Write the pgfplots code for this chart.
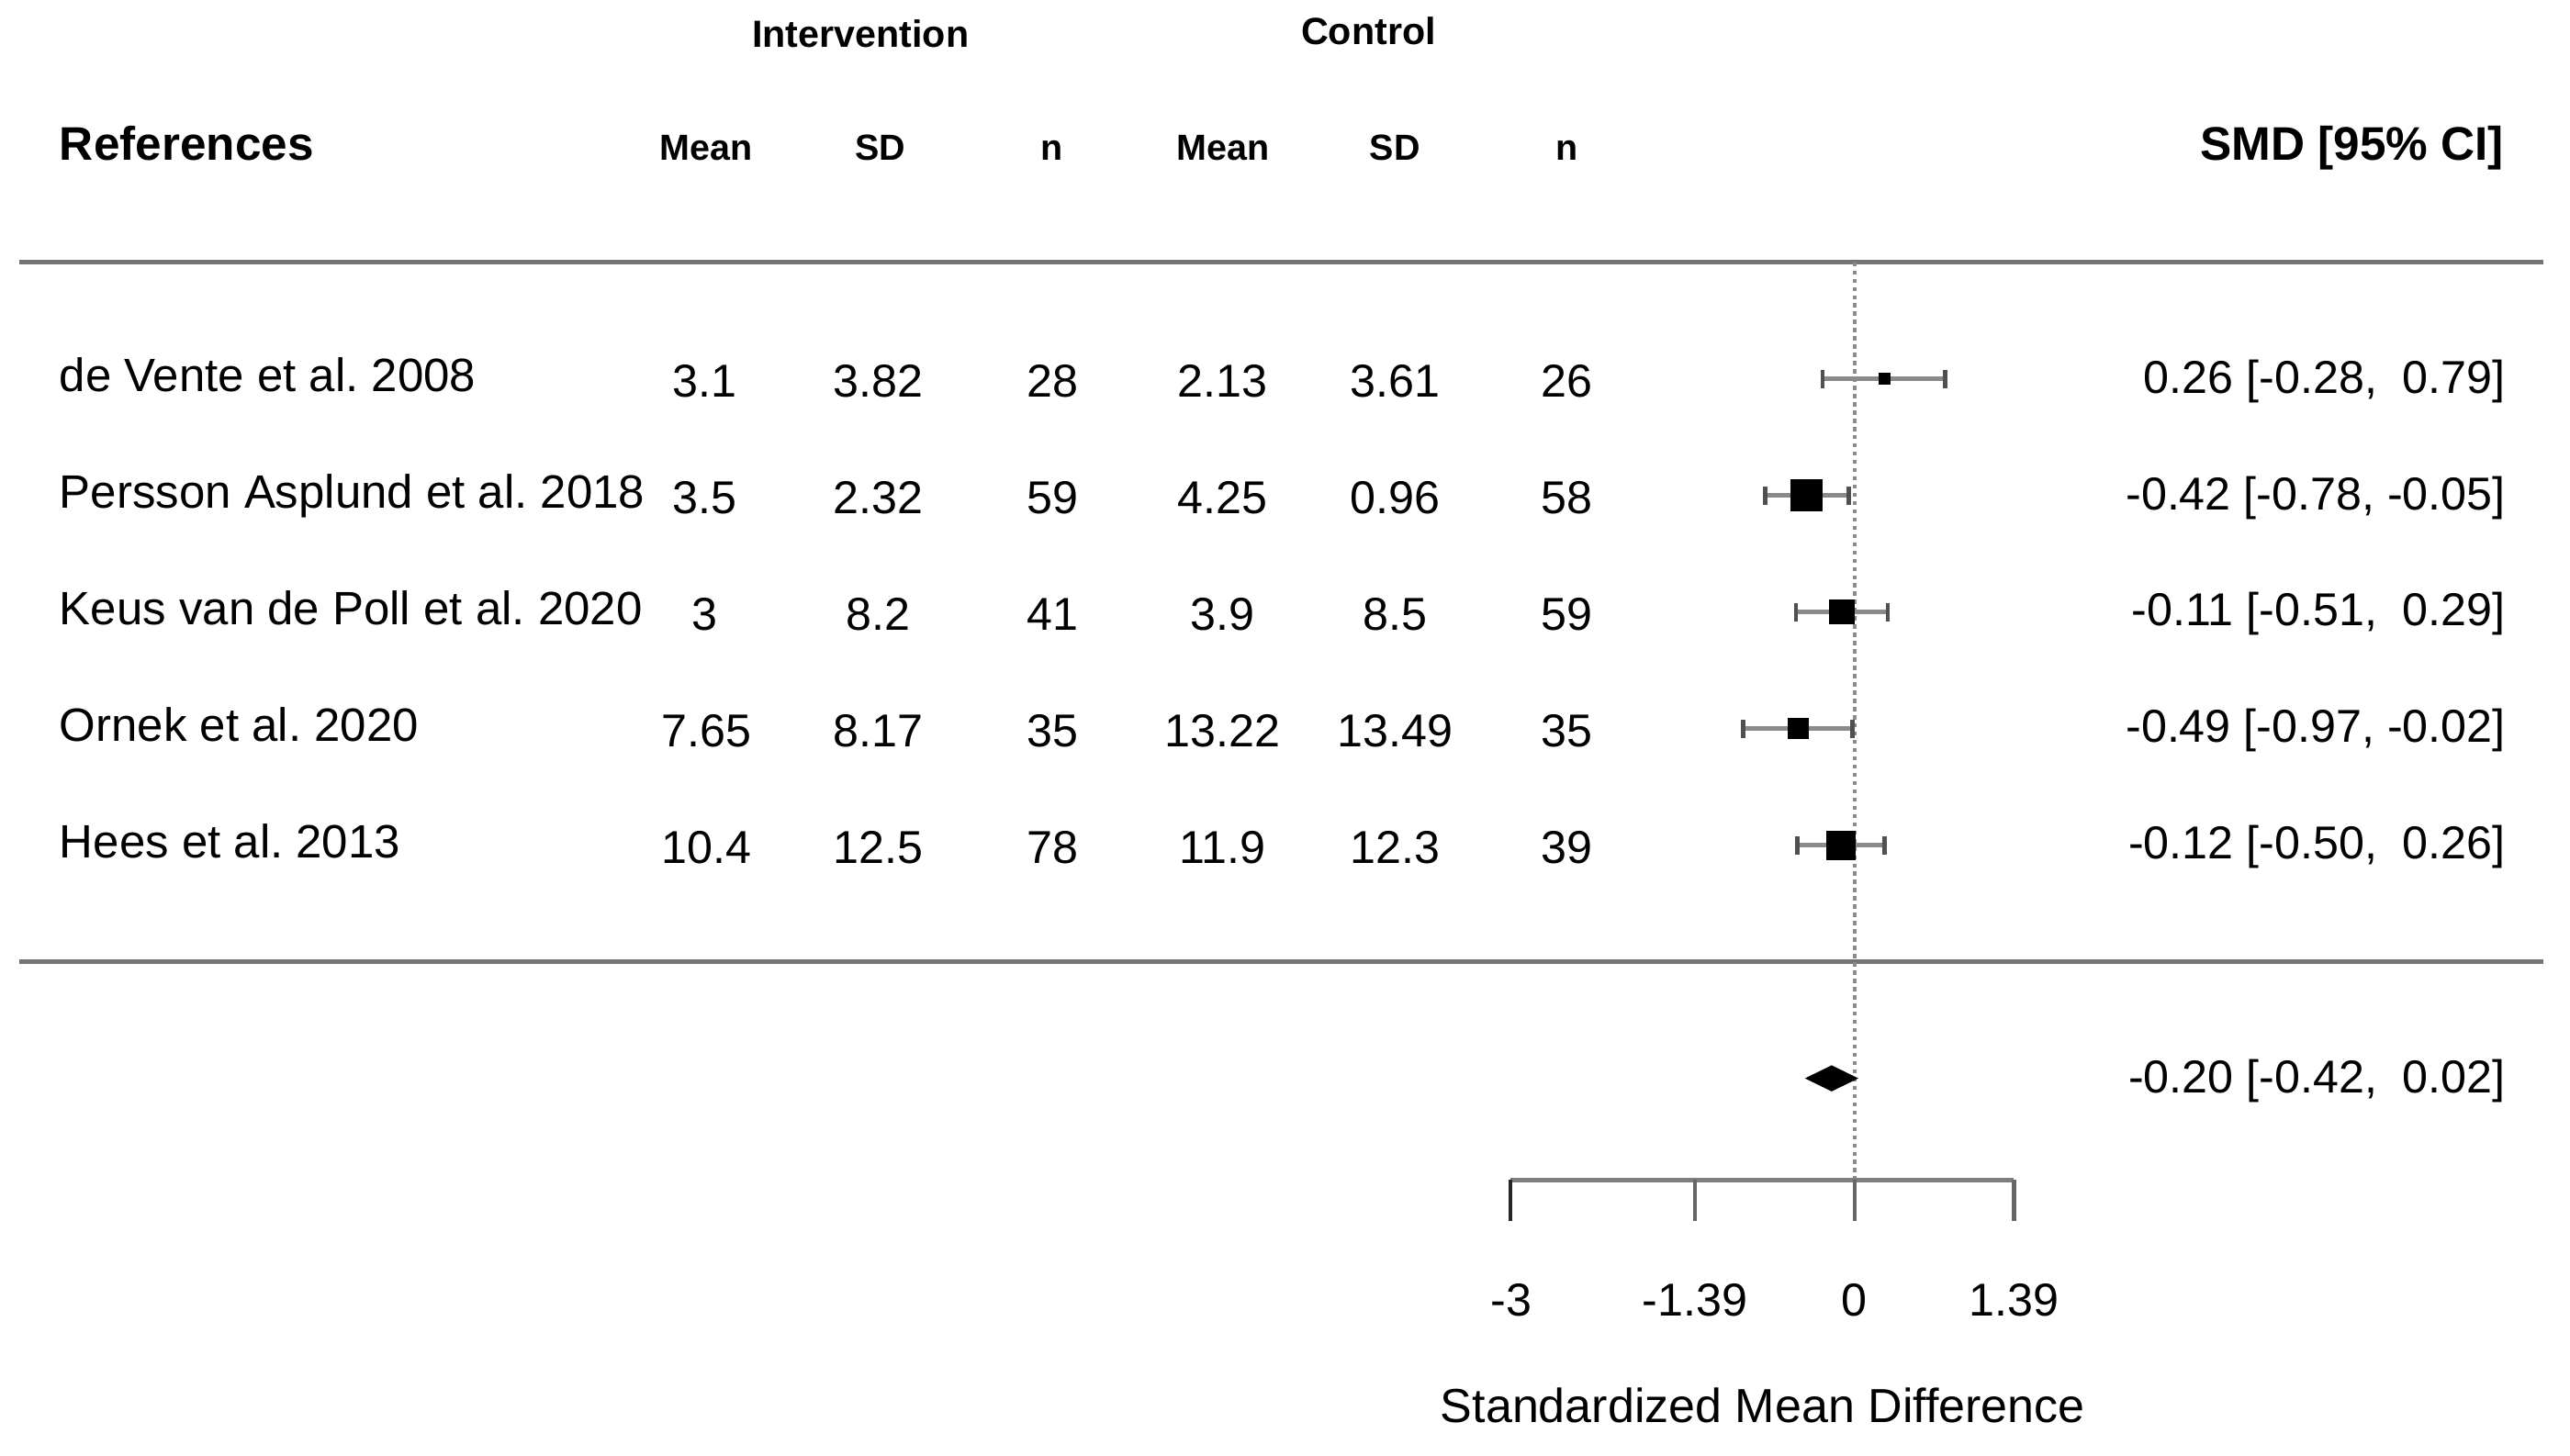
\documentclass[border=0pt]{standalone}
\usepackage{fontspec}
\setmainfont{Liberation Sans}
\setsansfont{Liberation Sans}
\usepackage{pgfplots}
\pgfplotsset{compat=1.18}
\definecolor{rulegray}{HTML}{747474}
\definecolor{cigray}{HTML}{8A8A8A}
\definecolor{endgray}{HTML}{505050}
\definecolor{axgray}{HTML}{7E7E7E}
\definecolor{tickgray}{HTML}{666666}
\tikzset{
  reg/.style={font=\fontsize{14}{16}\selectfont, inner sep=0pt, anchor=base},
  regl/.style={font=\fontsize{14.2}{16}\selectfont, inner sep=0pt, anchor=base west},
  regr/.style={reg, anchor=base east},
  hd/.style={font=\bfseries\fontsize{11}{13}\selectfont, inner sep=0pt, anchor=base},
  hdb/.style={font=\bfseries\fontsize{11.5}{13}\selectfont, inner sep=0pt, anchor=base},
  hdl/.style={font=\bfseries\fontsize{14.3}{16}\selectfont, inner sep=0pt},
}
\begin{document}
\frenchspacing
\begin{tikzpicture}
\useasboundingbox (0,0) rectangle (780pt,441.7pt);
% ---------------- layout axis (pixel coordinates) for text and rules
\begin{axis}[at={(0,0)}, anchor=south west, scale only axis,
  width=780pt, height=441.7pt, xmin=0, xmax=1568, ymin=0, ymax=887.9,
  y dir=reverse, hide axis, clip=false]
% headers
\node[hdb] at (axis cs:525,29) {Intervention};
\node[hdb] at (axis cs:835,27) {Control};
\node[hdl, anchor=base west] at (axis cs:36,98) {References};
\node[hdl, anchor=base east] at (axis cs:1528,98) {SMD [95\% CI]};
\node[hd] at (axis cs:431,98) {Mean};
\node[hd] at (axis cs:537,98) {SD};
\node[hd] at (axis cs:642,98) {n};
\node[hd] at (axis cs:746,98) {Mean};
\node[hd] at (axis cs:851,98) {SD};
\node[hd] at (axis cs:956,98) {n};
% rules
\draw[rulegray, line width=1.4pt] (axis cs:12,160) -- (axis cs:1552,160);
\draw[rulegray, line width=1.4pt] (axis cs:12,587) -- (axis cs:1552,587);
% row 1
\node[regl] at (axis cs:36,238.7) {de Vente et al. 2008};
\node[reg] at (axis cs:430,242.5) {3.1};
\node[reg] at (axis cs:536,242.5) {3.82};
\node[reg] at (axis cs:642,242.5) {28};
\node[reg] at (axis cs:746,242.5) {2.13};
\node[reg] at (axis cs:851,242.5) {3.61};
\node[reg] at (axis cs:956,242.5) {26};
\node[regr] at (axis cs:1529,240) {0.26 [-0.28,\ \ 0.79]};
% row 2
\node[regl] at (axis cs:36,309.9) {Persson Asplund et al. 2018};
\node[reg] at (axis cs:430,313.7) {3.5};
\node[reg] at (axis cs:536,313.7) {2.32};
\node[reg] at (axis cs:642,313.7) {59};
\node[reg] at (axis cs:746,313.7) {4.25};
\node[reg] at (axis cs:851,313.7) {0.96};
\node[reg] at (axis cs:956,313.7) {58};
\node[regr] at (axis cs:1529,311) {-0.42 [-0.78, -0.05]};
% row 3
\node[regl] at (axis cs:36,381) {Keus van de Poll et al. 2020};
\node[reg] at (axis cs:430,384.8) {3};
\node[reg] at (axis cs:536,384.8) {8.2};
\node[reg] at (axis cs:642,384.8) {41};
\node[reg] at (axis cs:746,384.8) {3.9};
\node[reg] at (axis cs:851,384.8) {8.5};
\node[reg] at (axis cs:956,384.8) {59};
\node[regr] at (axis cs:1529,382) {-0.11 [-0.51,\ \ 0.29]};
% row 4
\node[regl] at (axis cs:36,452.1) {Ornek et al. 2020};
\node[reg] at (axis cs:431,455.9) {7.65};
\node[reg] at (axis cs:536,455.9) {8.17};
\node[reg] at (axis cs:642,455.9) {35};
\node[reg] at (axis cs:746,455.9) {13.22};
\node[reg] at (axis cs:851,455.9) {13.49};
\node[reg] at (axis cs:956,455.9) {35};
\node[regr] at (axis cs:1529,453) {-0.49 [-0.97, -0.02]};
% row 5
\node[regl] at (axis cs:36,523.3) {Hees et al. 2013};
\node[reg] at (axis cs:431,527.1) {10.4};
\node[reg] at (axis cs:536,527.1) {12.5};
\node[reg] at (axis cs:642,527.1) {78};
\node[reg] at (axis cs:746,527.1) {11.9};
\node[reg] at (axis cs:851,527.1) {12.3};
\node[reg] at (axis cs:956,527.1) {39};
\node[regr] at (axis cs:1529,524) {-0.12 [-0.50,\ \ 0.26]};
% summary
\node[regr] at (axis cs:1529,667) {-0.20 [-0.42,\ \ 0.02]};
% x axis labels
\node[reg] at (axis cs:922,803) {-3};
\node[reg] at (axis cs:1034,803) {-1.39};
\node[reg] at (axis cs:1131.5,803) {0};
\node[reg] at (axis cs:1229,803) {1.39};
\node[reg, font=\fontsize{14.5}{16}\selectfont] at (axis cs:1075.5,868) {Standardized Mean Difference};
\end{axis}
% ---------------- data axis (SMD units horizontally)
\begin{axis}[at={(0,0)}, anchor=south west, scale only axis,
  width=780pt, height=441.7pt, xmin=-16.180, xmax=6.242, ymin=0, ymax=887.9,
  y dir=reverse, hide axis, clip=false]
% reference line at 0
\addplot[cigray, line width=1.0pt, dash pattern=on 1.25pt off 1.25pt] coordinates {(0,160) (0,720)};
% x axis
\addplot[axgray, line width=1.5pt] coordinates {(-3,720) (1.39,720)};
\addplot[black!85, line width=1.2pt] coordinates {(-3,720) (-3,745)};
\addplot[tickgray, line width=1.2pt] coordinates {(-1.39,720) (-1.39,745)};
\addplot[tickgray, line width=1.2pt] coordinates {(0,720) (0,745)};
\addplot[tickgray, line width=1.2pt] coordinates {(1.39,720) (1.39,745)};
% confidence intervals
\addplot[cigray, line width=1.5pt, mark=|, mark size=2.8pt, mark options={endgray, line width=1.3pt}] coordinates {(-0.28,231.2) (0.79,231.2)};
\addplot[cigray, line width=1.5pt, mark=|, mark size=2.8pt, mark options={endgray, line width=1.3pt}] coordinates {(-0.78,302.35) (-0.05,302.35)};
\addplot[cigray, line width=1.5pt, mark=|, mark size=2.8pt, mark options={endgray, line width=1.3pt}] coordinates {(-0.51,373.5) (0.29,373.5)};
\addplot[cigray, line width=1.5pt, mark=|, mark size=2.8pt, mark options={endgray, line width=1.3pt}] coordinates {(-0.97,444.65) (-0.02,444.65)};
\addplot[cigray, line width=1.5pt, mark=|, mark size=2.8pt, mark options={endgray, line width=1.3pt}] coordinates {(-0.50,515.8) (0.26,515.8)};
% point estimates (squares sized by weight)
\addplot[only marks, mark=square*, mark size=1.6pt, black] coordinates {(0.26,231.2)};
\addplot[only marks, mark=square*, mark size=4.7pt, black] coordinates {(-0.42,302.35)};
\addplot[only marks, mark=square*, mark size=3.6pt, black] coordinates {(-0.11,373.5)};
\addplot[only marks, mark=square*, mark size=3.0pt, black] coordinates {(-0.49,444.65)};
\addplot[only marks, mark=square*, mark size=4.2pt, black] coordinates {(-0.12,515.8)};
% summary diamond
\addplot[black, fill=black, line width=0.4pt] coordinates {(-0.42,658) (-0.20,650.5) (0.02,658) (-0.20,665.5)} -- cycle;
\end{axis}
\end{tikzpicture}
\end{document}
